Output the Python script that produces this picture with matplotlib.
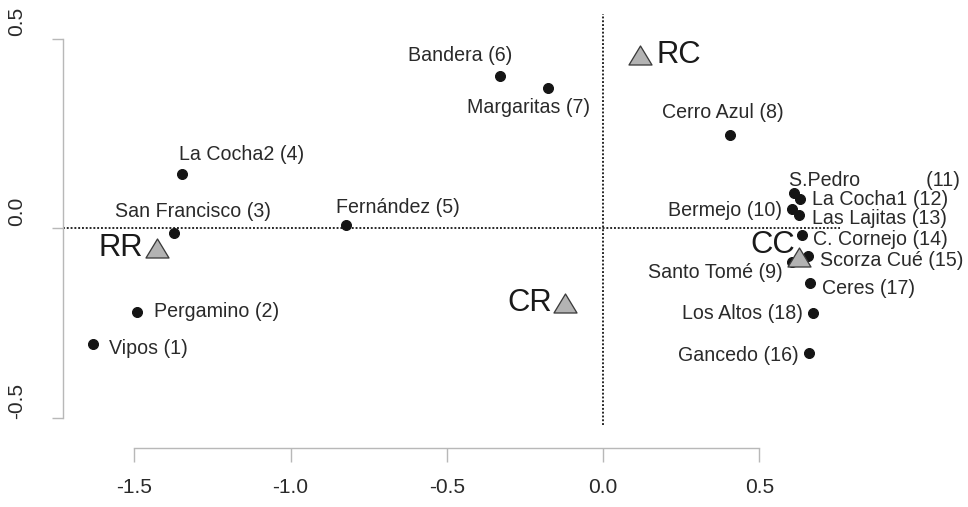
import matplotlib
matplotlib.use("Agg")
import matplotlib.pyplot as plt
import matplotlib.transforms as mtransforms
from matplotlib.path import Path

# ── sites (dots) and group centroids (triangles) ─────────────────────────────
site_names = [
    "Vipos (1)", "Pergamino (2)", "San Francisco (3)", "La Cocha2 (4)",
    "Fernández (5)", "Bandera (6)", "Margaritas (7)", "Cerro Azul (8)",
    "Santo Tomé (9)", "Bermejo (10)", "S.Pedro            (11)",
    "La Cocha1 (12)", "Las Lajitas (13)", "C. Cornejo (14)",
    "Scorza Cué (15)", "Gancedo (16)", "Ceres (17)", "Los Altos (18)",
]
site_x = [-1.632, -1.491, -1.373, -1.347, -0.822, -0.330, -0.176, 0.406,
          0.605, 0.605, 0.611, 0.630, 0.627, 0.637, 0.656, 0.659, 0.662,
          0.672]
site_y = [-0.305, -0.220, -0.012, 0.144, 0.009, 0.402, 0.371, 0.247,
          -0.088, 0.051, 0.094, 0.078, 0.036, -0.017, -0.073, -0.329,
          -0.144, -0.223]

group_names = ["RR", "CR", "RC", "CC"]
group_x = [-1.427, -0.122, 0.118, 0.627]
group_y = [-0.051, -0.197, 0.458, -0.075]

x_ticks = [-1.5, -1.0, -0.5, 0.0, 0.5]
y_ticks = [-0.5, 0.0, 0.5]

# label placement: (ha, dx, dy) in points, dy upward
site_label_pos = [
    ("left", 16, -4), ("left", 17, 0), ("left", -59, 21), ("left", -3, 19),
    ("left", -10, 18), ("right", 12, 21), ("left", -81, -20),
    ("left", -68, 22), ("right", -10, -11), ("right", -10, -1),
    ("left", -5, 12), ("left", 12, -1), ("left", 13, -4), ("left", 11, -5),
    ("left", 12, -4), ("right", -10, -2), ("left", 12, -5),
    ("right", -10, 0),
]
group_label_pos = [("right", -14, 0), ("right", -13, 0), ("left", 17, 0),
                   ("right", -4, 12)]

TEXT = "#2a2a2a"
AXIS = "#b8b8b8"

plt.rcParams["font.family"] = ["Liberation Sans", "DejaVu Sans"]

# 72 dpi so that one point is one pixel
fig = plt.figure(figsize=(968 / 72, 507 / 72), dpi=72)
ax = fig.add_axes([63 / 968, 59 / 507, 777 / 968, 441 / 507])
ax.set_xlim(-1.728, 0.758)
ax.set_ylim(-0.579, 0.584)

# reference lines through the origin
ax.axhline(0, color="#222222", lw=1.9, ls=(0, (1, 1)), zorder=1)
ax.plot([0, 0], [-0.518, 0.566], color="#222222", lw=1.9, ls=(0, (1, 1)),
        zorder=1)

ax.plot(site_x, site_y, "o", ms=10, color="#151515", mec="#151515",
        zorder=3, clip_on=False)

tri = Path([(-1.15, -0.95), (1.15, -0.95), (0, 0.95), (-1.15, -0.95)],
           closed=True)
ax.plot(group_x, group_y, ls="none", marker=tri, ms=23, mfc="#b3b3b3",
        mec="#3a3a3a", mew=1.3, zorder=4, clip_on=False)

for name, x, y, (ha, dx, dy) in zip(site_names, site_x, site_y,
                                    site_label_pos):
    ax.annotate(name, (x, y), xytext=(dx, dy), textcoords="offset points",
                ha=ha, va="center", fontsize=19.6, color=TEXT, zorder=5)

for name, x, y, (ha, dx, dy) in zip(group_names, group_x, group_y,
                                    group_label_pos):
    ax.annotate(name, (x, y), xytext=(dx, dy), textcoords="offset points",
                ha=ha, va="center", fontsize=31, color="#1a1a1a", zorder=5)

# detached base-style axes
for side in ("top", "right"):
    ax.spines[side].set_visible(False)
for side in ("left", "bottom"):
    ax.spines[side].set_color(AXIS)
    ax.spines[side].set_linewidth(1.4)
ax.spines["bottom"].set_bounds(x_ticks[0], x_ticks[-1])
ax.spines["left"].set_bounds(y_ticks[0], y_ticks[-1])

ax.set_xticks(x_ticks)
ax.set_xticklabels([f"{t:.1f}" for t in x_ticks])
ax.set_yticks(y_ticks)
ax.set_yticklabels([f"{t:.1f}" for t in y_ticks])
ax.tick_params(axis="x", length=14, width=1.4, color=AXIS, pad=16,
               labelsize=21, labelcolor=TEXT)
ax.tick_params(axis="y", length=11, width=1.4, color=AXIS, pad=26,
               labelsize=21, labelcolor=TEXT, labelrotation=90)

shift = mtransforms.ScaledTranslation(0, 17 / 72, fig.dpi_scale_trans)
for lab in ax.get_yticklabels():
    lab.set_va("center")
    lab.set_transform(lab.get_transform() + shift)

fig.savefig("out.png", dpi=72, facecolor="white")
